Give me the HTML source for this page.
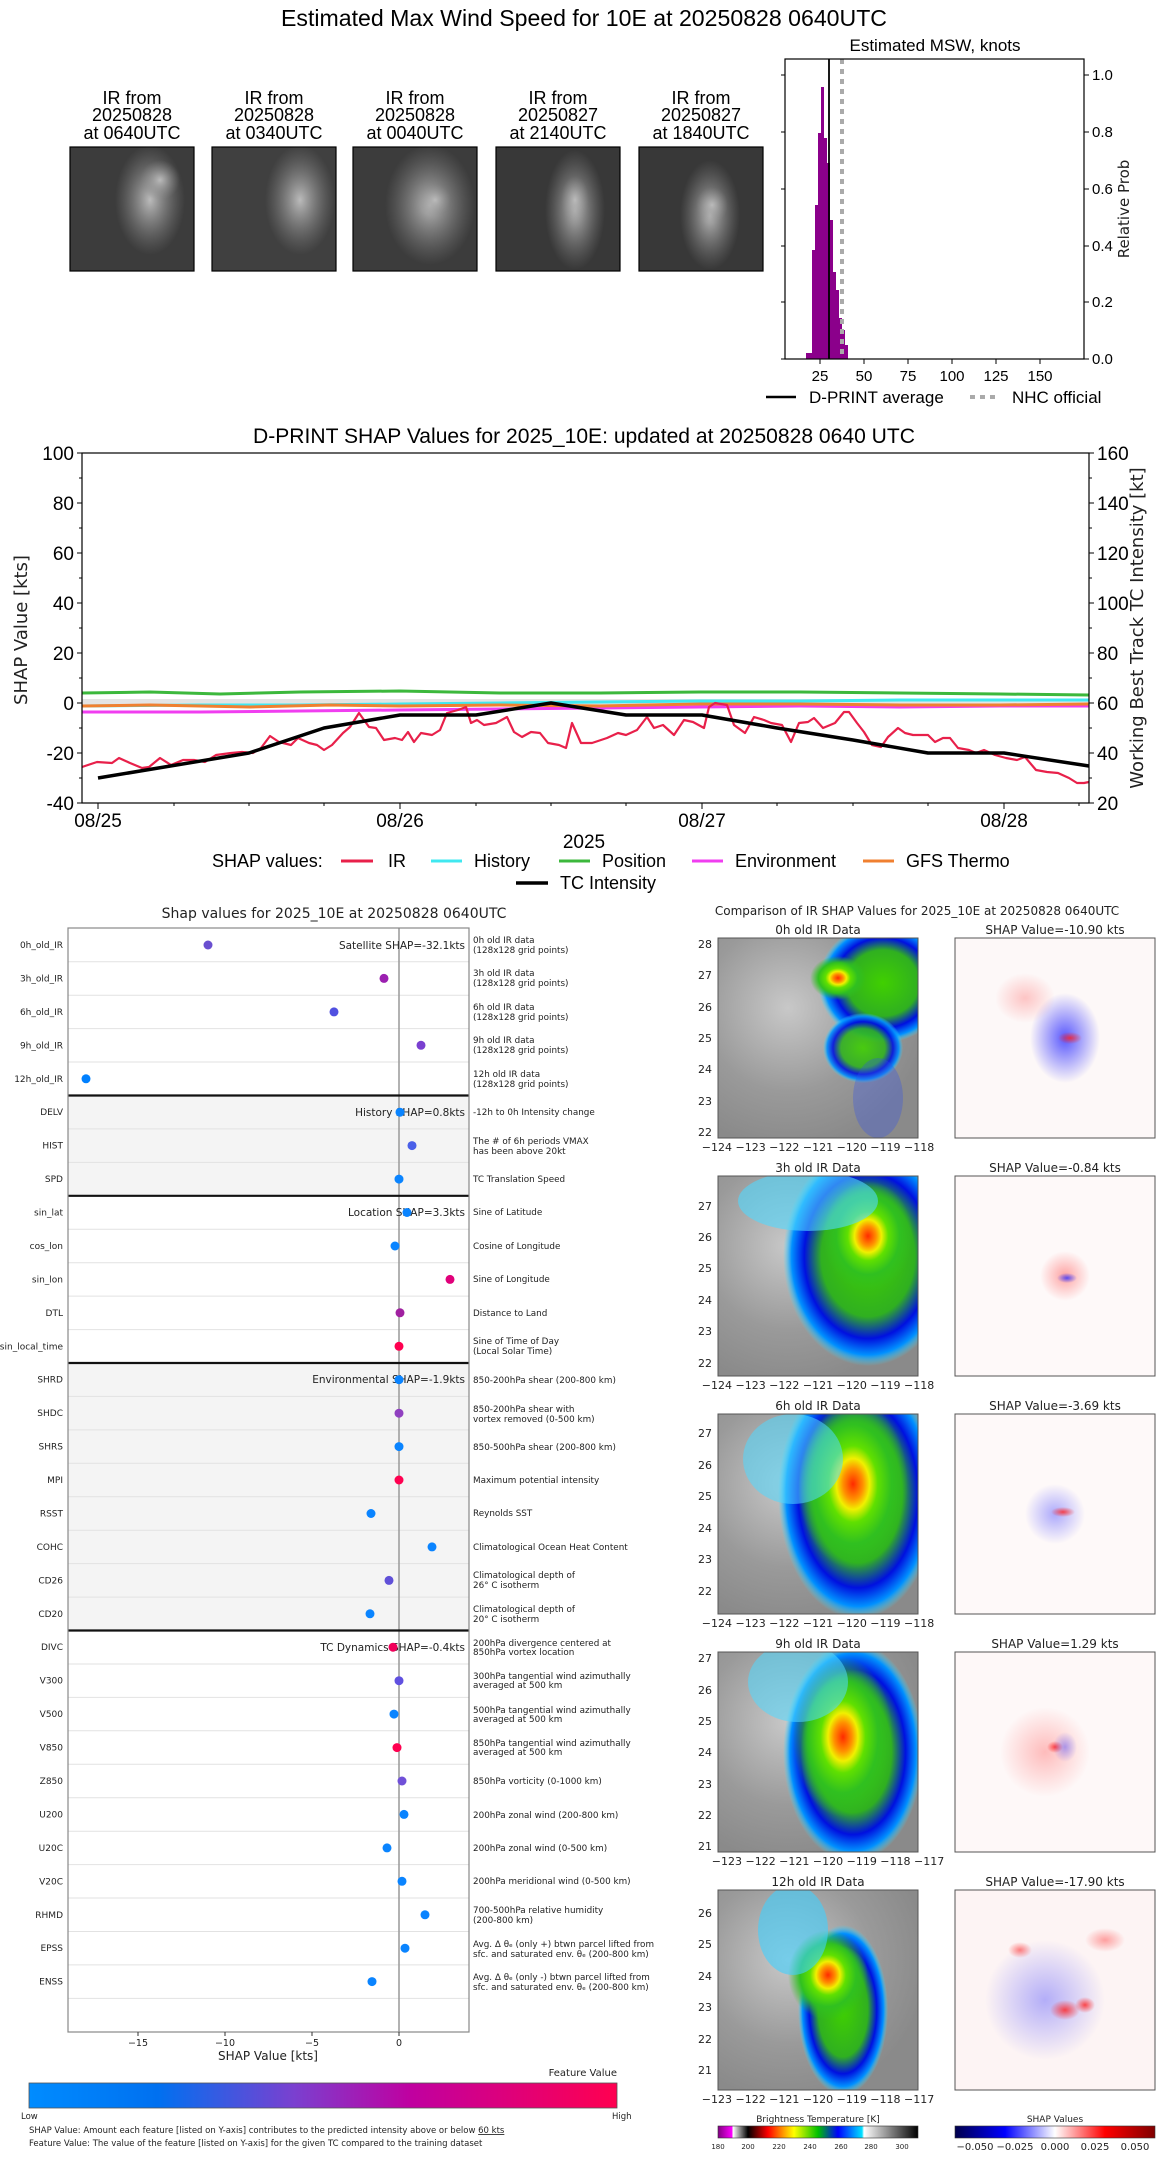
<!DOCTYPE html>
<html><head><meta charset="utf-8"><style>
html,body{margin:0;padding:0;background:#fff}
svg{display:block}
text{font-family:"DejaVu Sans","Liberation Sans",sans-serif;fill:#222}
.n{font-family:"Liberation Sans",sans-serif;fill:#000}
</style></head><body>
<svg width="1168" height="2158" viewBox="0 0 1168 2158" xmlns="http://www.w3.org/2000/svg">
<defs>
<radialGradient id="ir" cx="0.5" cy="0.5" r="0.5"><stop offset="0" stop-color="#ff2a00"/><stop offset="0.18" stop-color="#ff9000"/><stop offset="0.3" stop-color="#f0f000"/><stop offset="0.45" stop-color="#60e000"/><stop offset="0.7" stop-color="#30c020"/><stop offset="1" stop-color="#30c020" stop-opacity="0"/></radialGradient>
<radialGradient id="irg" cx="0.5" cy="0.5" r="0.5"><stop offset="0" stop-color="#40d000"/><stop offset="0.55" stop-color="#30b020"/><stop offset="0.75" stop-color="#0010e0"/><stop offset="0.9" stop-color="#0090ff"/><stop offset="1" stop-color="#40e0ff" stop-opacity="0"/></radialGradient>
<radialGradient id="gray" cx="0.35" cy="0.35" r="0.7"><stop offset="0" stop-color="#c8c8c8"/><stop offset="0.6" stop-color="#9a9a9a"/><stop offset="1" stop-color="#8a8a8a"/></radialGradient>
<radialGradient id="sb" cx="0.5" cy="0.5" r="0.5"><stop offset="0" stop-color="#3030ff" stop-opacity="0.8"/><stop offset="1" stop-color="#3030ff" stop-opacity="0"/></radialGradient>
<radialGradient id="sr" cx="0.5" cy="0.5" r="0.5"><stop offset="0" stop-color="#ff2020" stop-opacity="0.8"/><stop offset="1" stop-color="#ff2020" stop-opacity="0"/></radialGradient>
<radialGradient id="tc" cx="0.5" cy="0.5" r="0.5"><stop offset="0" stop-color="#bbb"/><stop offset="1" stop-color="#888" stop-opacity="0"/></radialGradient>
<linearGradient id="fv" x1="0" x2="1"><stop offset="0" stop-color="#008cff"/><stop offset="0.22" stop-color="#0070f0"/><stop offset="0.45" stop-color="#7a40d0"/><stop offset="0.65" stop-color="#c000a0"/><stop offset="1" stop-color="#ff0050"/></linearGradient>
<linearGradient id="bt" x1="0" x2="1"><stop offset="0" stop-color="#800080"/><stop offset="0.07" stop-color="#ff00ff"/><stop offset="0.075" stop-color="#ffffff"/><stop offset="0.15" stop-color="#000"/><stop offset="0.25" stop-color="#ff0000"/><stop offset="0.33" stop-color="#ffa000"/><stop offset="0.38" stop-color="#ffff00"/><stop offset="0.5" stop-color="#00c000"/><stop offset="0.6" stop-color="#0000ff"/><stop offset="0.72" stop-color="#00e0ff"/><stop offset="0.73" stop-color="#ffffff"/><stop offset="1" stop-color="#000"/></linearGradient>
<linearGradient id="sv" x1="0" x2="1"><stop offset="0" stop-color="#00004c"/><stop offset="0.25" stop-color="#0000ff"/><stop offset="0.5" stop-color="#ffffff"/><stop offset="0.75" stop-color="#ff0000"/><stop offset="1" stop-color="#800000"/></linearGradient>
</defs>

<!-- TOP -->
<text class="n" x="584" y="26" font-size="23" text-anchor="middle" textLength="606" lengthAdjust="spacingAndGlyphs">Estimated Max Wind Speed for 10E at 20250828 0640UTC</text>
<g class="n" font-size="18" text-anchor="middle">
<text class="n" x="132" y="104">IR from</text><text class="n" x="132" y="121">20250828</text><text class="n" x="132" y="139">at 0640UTC</text>
<text class="n" x="274" y="104">IR from</text><text class="n" x="274" y="121">20250828</text><text class="n" x="274" y="139">at 0340UTC</text>
<text class="n" x="415" y="104">IR from</text><text class="n" x="415" y="121">20250828</text><text class="n" x="415" y="139">at 0040UTC</text>
<text class="n" x="558" y="104">IR from</text><text class="n" x="558" y="121">20250827</text><text class="n" x="558" y="139">at 2140UTC</text>
<text class="n" x="701" y="104">IR from</text><text class="n" x="701" y="121">20250827</text><text class="n" x="701" y="139">at 1840UTC</text>
</g>
<g stroke="#000" stroke-width="1.2">
<rect x="70" y="147" width="124" height="124" fill="#3c3c3c"/>
<rect x="212" y="147" width="124" height="124" fill="#404040"/>
<rect x="353" y="147" width="124" height="124" fill="#3c3c3c"/>
<rect x="496" y="147" width="124" height="124" fill="#383838"/>
<rect x="639" y="147" width="124" height="124" fill="#383838"/>
</g>
<ellipse cx="150" cy="200" rx="35" ry="55" fill="url(#tc)"/><ellipse cx="160" cy="180" rx="20" ry="20" fill="url(#tc)"/>
<ellipse cx="300" cy="200" rx="35" ry="55" fill="url(#tc)"/>
<ellipse cx="430" cy="205" rx="45" ry="60" fill="url(#tc)"/><ellipse cx="435" cy="200" rx="16" ry="16" fill="url(#tc)"/>
<ellipse cx="575" cy="210" rx="30" ry="60" fill="url(#tc)"/><ellipse cx="575" cy="200" rx="14" ry="24" fill="url(#tc)"/>
<ellipse cx="710" cy="215" rx="30" ry="55" fill="url(#tc)"/><ellipse cx="712" cy="205" rx="16" ry="18" fill="url(#tc)"/>

<!-- histogram -->
<text class="n" x="935" y="51" font-size="17" text-anchor="middle">Estimated MSW, knots</text>
<g fill="#8b008b">
<rect x="806" y="353" width="6" height="6"/>
<rect x="812" y="250" width="3" height="109"/>
<rect x="815" y="205" width="3" height="154"/>
<rect x="818" y="133" width="3" height="226"/>
<rect x="821" y="87" width="3" height="272"/>
<rect x="824" y="138" width="3" height="221"/>
<rect x="827" y="163" width="3" height="196"/>
<rect x="830" y="220" width="3" height="139"/>
<rect x="833" y="272" width="3" height="87"/>
<rect x="836" y="290" width="3" height="69"/>
<rect x="839" y="318" width="3" height="41"/>
<rect x="842" y="330" width="3" height="29"/>
<rect x="845" y="345" width="3" height="14"/>
</g>
<line x1="842" y1="59" x2="842" y2="359" stroke="#aaa" stroke-width="4" stroke-dasharray="5,5"/>
<line x1="829" y1="59" x2="829" y2="359" stroke="#000" stroke-width="1.8"/>
<rect x="785" y="59" width="299" height="300" fill="none" stroke="#000" stroke-width="1.2"/>
<g stroke="#000"><line x1="820" y1="359" x2="820" y2="364"/><line x1="864" y1="359" x2="864" y2="364"/><line x1="908" y1="359" x2="908" y2="364"/><line x1="952" y1="359" x2="952" y2="364"/><line x1="996" y1="359" x2="996" y2="364"/><line x1="1040" y1="359" x2="1040" y2="364"/>
<line x1="1084" y1="359" x2="1089" y2="359"/><line x1="1084" y1="302" x2="1089" y2="302"/><line x1="1084" y1="246" x2="1089" y2="246"/><line x1="1084" y1="189" x2="1089" y2="189"/><line x1="1084" y1="132" x2="1089" y2="132"/><line x1="1084" y1="75" x2="1089" y2="75"/>
<line x1="785" y1="359" x2="781" y2="359"/><line x1="785" y1="302" x2="781" y2="302"/><line x1="785" y1="246" x2="781" y2="246"/><line x1="785" y1="189" x2="781" y2="189"/><line x1="785" y1="132" x2="781" y2="132"/><line x1="785" y1="75" x2="781" y2="75"/></g>
<g font-size="15" text-anchor="middle"><text class="n" x="820" y="381">25</text><text class="n" x="864" y="381">50</text><text class="n" x="908" y="381">75</text><text class="n" x="952" y="381">100</text><text class="n" x="996" y="381">125</text><text class="n" x="1040" y="381">150</text></g>
<g font-size="15"><text class="n" x="1092" y="364">0.0</text><text class="n" x="1092" y="307">0.2</text><text class="n" x="1092" y="251">0.4</text><text class="n" x="1092" y="194">0.6</text><text class="n" x="1092" y="137">0.8</text><text class="n" x="1092" y="80">1.0</text></g>
<text x="1129" y="209" font-size="15" text-anchor="middle" transform="rotate(-90 1129 209)">Relative Prob</text>
<line x1="766" y1="397" x2="796" y2="397" stroke="#000" stroke-width="2.5"/>
<text class="n" x="809" y="403" font-size="17">D-PRINT average</text>
<line x1="970" y1="397" x2="1000" y2="397" stroke="#aaa" stroke-width="4" stroke-dasharray="5,5"/>
<text class="n" x="1012" y="403" font-size="17">NHC official</text>

<!-- MIDDLE CHART -->
<text class="n" x="584" y="443" font-size="21" text-anchor="middle" textLength="662" lengthAdjust="spacingAndGlyphs">D-PRINT SHAP Values for 2025_10E: updated at 20250828 0640 UTC</text>
<rect x="82" y="699" width="1007" height="7" fill="#e4e4e4"/>
<g fill="none" stroke-width="3" stroke-linejoin="round">
<polyline stroke="#3cb83c" points="82,693 150,692 220,694 300,692 400,691 500,693 600,693 700,692 800,692 900,693 1000,694 1089,695"/>
<polyline stroke="#40e8f0" points="82,706 200,705 300,705 400,704 500,703 600,702 700,701 800,701 900,700 1000,700 1089,700"/>
<polyline stroke="#f03ef0" points="82,712 200,712 300,711 400,710 500,709 600,708 700,707 800,706 900,707 1000,706 1089,706"/>
<polyline stroke="#f08030" points="82,706 150,705 250,707 330,705 400,706 500,705 600,706 700,704 800,704 900,705 1000,705 1089,704"/>
</g>
<polyline fill="none" stroke="#e8204a" stroke-width="2.2" stroke-linejoin="round" points="82,767 97,762 112,763 119,758 130,763 142,768 149,767 160,758 171,765 183,760 194,760 205,762 216,755 231,753 242,752 253,753 261,748 270,736 279,742 291,745 298,738 309,743 317,745 324,750 332,745 343,733 350,727 359,713 369,727 376,728 384,740 395,738 402,740 408,732 414,742 421,733 432,735 440,730 447,713 458,710 466,707 471,723 477,720 484,725 496,723 507,717 514,732 522,737 531,732 540,733 548,743 559,745 566,748 572,723 581,743 592,743 607,738 618,733 626,735 637,730 647,717 654,728 663,725 674,735 684,720 693,722 704,728 709,707 715,703 727,705 734,725 745,733 754,717 764,720 771,723 782,725 791,742 799,723 808,722 814,718 823,728 835,723 844,712 849,712 857,723 864,732 872,745 881,747 888,737 898,728 905,733 913,735 928,735 935,742 943,738 950,738 958,748 969,750 976,753 984,750 995,755 1006,758 1017,760 1025,757 1036,770 1047,772 1058,773 1069,778 1077,783 1084,783 1089,782"/>
<polyline fill="none" stroke="#000" stroke-width="3.5" stroke-linejoin="round" points="98,778 249,753 324,728 400,715 476,715 551,703 626,715 702,715 777,728 853,740 928,753 1004,753 1089,766"/>
<rect x="82" y="453" width="1007" height="350" fill="none" stroke="#000" stroke-width="1.2"/>
<g stroke="#000">
<line x1="82" y1="453" x2="77" y2="453"/><line x1="82" y1="503" x2="77" y2="503"/><line x1="82" y1="553" x2="77" y2="553"/><line x1="82" y1="603" x2="77" y2="603"/><line x1="82" y1="653" x2="77" y2="653"/><line x1="82" y1="703" x2="77" y2="703"/><line x1="82" y1="753" x2="77" y2="753"/><line x1="82" y1="803" x2="77" y2="803"/>
<line x1="82" y1="478" x2="79" y2="478"/><line x1="82" y1="528" x2="79" y2="528"/><line x1="82" y1="578" x2="79" y2="578"/><line x1="82" y1="628" x2="79" y2="628"/><line x1="82" y1="678" x2="79" y2="678"/><line x1="82" y1="728" x2="79" y2="728"/><line x1="82" y1="778" x2="79" y2="778"/>
<line x1="1089" y1="453" x2="1094" y2="453"/><line x1="1089" y1="503" x2="1094" y2="503"/><line x1="1089" y1="553" x2="1094" y2="553"/><line x1="1089" y1="603" x2="1094" y2="603"/><line x1="1089" y1="653" x2="1094" y2="653"/><line x1="1089" y1="703" x2="1094" y2="703"/><line x1="1089" y1="753" x2="1094" y2="753"/><line x1="1089" y1="803" x2="1094" y2="803"/>
<line x1="1089" y1="478" x2="1092" y2="478"/><line x1="1089" y1="528" x2="1092" y2="528"/><line x1="1089" y1="578" x2="1092" y2="578"/><line x1="1089" y1="628" x2="1092" y2="628"/><line x1="1089" y1="678" x2="1092" y2="678"/><line x1="1089" y1="728" x2="1092" y2="728"/><line x1="1089" y1="778" x2="1092" y2="778"/>
<line x1="98" y1="803" x2="98" y2="809"/><line x1="400" y1="803" x2="400" y2="809"/><line x1="702" y1="803" x2="702" y2="809"/><line x1="1004" y1="803" x2="1004" y2="809"/>
<line x1="174" y1="803" x2="174" y2="806"/><line x1="249" y1="803" x2="249" y2="806"/><line x1="324" y1="803" x2="324" y2="806"/><line x1="476" y1="803" x2="476" y2="806"/><line x1="551" y1="803" x2="551" y2="806"/><line x1="626" y1="803" x2="626" y2="806"/><line x1="777" y1="803" x2="777" y2="806"/><line x1="853" y1="803" x2="853" y2="806"/><line x1="928" y1="803" x2="928" y2="806"/><line x1="1079" y1="803" x2="1079" y2="806"/>
</g>
<g font-size="19" text-anchor="end"><text class="n" x="74" y="460">100</text><text class="n" x="74" y="510">80</text><text class="n" x="74" y="560">60</text><text class="n" x="74" y="610">40</text><text class="n" x="74" y="660">20</text><text class="n" x="74" y="710">0</text><text class="n" x="74" y="760">-20</text><text class="n" x="74" y="810">-40</text></g>
<g font-size="19"><text class="n" x="1097" y="460">160</text><text class="n" x="1097" y="510">140</text><text class="n" x="1097" y="560">120</text><text class="n" x="1097" y="610">100</text><text class="n" x="1097" y="660">80</text><text class="n" x="1097" y="710">60</text><text class="n" x="1097" y="760">40</text><text class="n" x="1097" y="810">20</text></g>
<g font-size="19" text-anchor="middle"><text class="n" x="98" y="827">08/25</text><text class="n" x="400" y="827">08/26</text><text class="n" x="702" y="827">08/27</text><text class="n" x="1004" y="827">08/28</text><text class="n" x="584" y="848">2025</text></g>
<text x="27" y="630" font-size="18" text-anchor="middle" transform="rotate(-90 27 630)">SHAP Value [kts]</text>
<text x="1143" y="628" font-size="18" text-anchor="middle" transform="rotate(-90 1143 628)">Working Best Track TC Intensity [kt]</text>
<g font-size="18"><text class="n" x="212" y="867">SHAP values:</text>
<line x1="341" y1="861" x2="373" y2="861" stroke="#e8204a" stroke-width="3"/><text class="n" x="388" y="867">IR</text>
<line x1="431" y1="861" x2="462" y2="861" stroke="#40e8f0" stroke-width="3"/><text class="n" x="474" y="867">History</text>
<line x1="559" y1="861" x2="590" y2="861" stroke="#3cb83c" stroke-width="3"/><text class="n" x="602" y="867">Position</text>
<line x1="692" y1="861" x2="723" y2="861" stroke="#f03ef0" stroke-width="3"/><text class="n" x="735" y="867">Environment</text>
<line x1="863" y1="861" x2="894" y2="861" stroke="#f08030" stroke-width="3"/><text class="n" x="906" y="867">GFS Thermo</text>
<line x1="516" y1="883" x2="548" y2="883" stroke="#000" stroke-width="3.5"/><text class="n" x="560" y="889">TC Intensity</text></g>

<!-- LEFT SHAP PANEL -->
<text x="334" y="918" font-size="14" text-anchor="middle">Shap values for 2025_10E at 20250828 0640UTC</text>
<rect x="68" y="1095.5" width="401" height="100.3" fill="#f4f4f4"/>
<rect x="68" y="1363" width="401" height="267.5" fill="#f4f4f4"/>
<g stroke="#e2e2e2" stroke-width="1">
<line x1="68" x2="469" y1="961.7" y2="961.7"/><line x1="68" x2="469" y1="995.2" y2="995.2"/><line x1="68" x2="469" y1="1028.6" y2="1028.6"/><line x1="68" x2="469" y1="1062" y2="1062"/>
<line x1="68" x2="469" y1="1128.9" y2="1128.9"/><line x1="68" x2="469" y1="1162.4" y2="1162.4"/>
<line x1="68" x2="469" y1="1229.2" y2="1229.2"/><line x1="68" x2="469" y1="1262.7" y2="1262.7"/><line x1="68" x2="469" y1="1296.1" y2="1296.1"/><line x1="68" x2="469" y1="1329.6" y2="1329.6"/>
<line x1="68" x2="469" y1="1396.4" y2="1396.4"/><line x1="68" x2="469" y1="1429.9" y2="1429.9"/><line x1="68" x2="469" y1="1463.3" y2="1463.3"/><line x1="68" x2="469" y1="1496.8" y2="1496.8"/><line x1="68" x2="469" y1="1530.2" y2="1530.2"/><line x1="68" x2="469" y1="1563.6" y2="1563.6"/><line x1="68" x2="469" y1="1597.1" y2="1597.1"/>
<line x1="68" x2="469" y1="1664" y2="1664"/><line x1="68" x2="469" y1="1697.4" y2="1697.4"/><line x1="68" x2="469" y1="1730.8" y2="1730.8"/><line x1="68" x2="469" y1="1764.3" y2="1764.3"/><line x1="68" x2="469" y1="1797.7" y2="1797.7"/><line x1="68" x2="469" y1="1831.2" y2="1831.2"/><line x1="68" x2="469" y1="1864.6" y2="1864.6"/><line x1="68" x2="469" y1="1898" y2="1898"/><line x1="68" x2="469" y1="1931.5" y2="1931.5"/><line x1="68" x2="469" y1="1964.9" y2="1964.9"/><line x1="68" x2="469" y1="1998.4" y2="1998.4"/>
</g>
<line x1="399" y1="928" x2="399" y2="2032" stroke="#999" stroke-width="1.5"/>
<g stroke="#111" stroke-width="2.2"><line x1="68" x2="469" y1="1095.5" y2="1095.5"/><line x1="68" x2="469" y1="1195.8" y2="1195.8"/><line x1="68" x2="469" y1="1363" y2="1363"/><line x1="68" x2="469" y1="1630.5" y2="1630.5"/></g>
<rect x="68" y="928" width="401" height="1104" fill="none" stroke="#888" stroke-width="1.2"/>
<g font-size="10.5" text-anchor="end">
<text x="465" y="949">Satellite SHAP=-32.1kts</text>
<text x="465" y="1116">History SHAP=0.8kts</text>
<text x="465" y="1216">Location SHAP=3.3kts</text>
<text x="465" y="1383">Environmental SHAP=-1.9kts</text>
<text x="465" y="1651">TC Dynamics SHAP=-0.4kts</text>
</g>
<g>
<circle cx="208" cy="945" r="4.5" fill="#6a4fd0"/><circle cx="384" cy="978.4" r="4.5" fill="#9b20b0"/><circle cx="334" cy="1011.9" r="4.5" fill="#5050e0"/><circle cx="421" cy="1045.3" r="4.5" fill="#7a40d0"/><circle cx="86" cy="1078.8" r="4.5" fill="#0080ff"/>
<circle cx="400" cy="1112.2" r="4.5" fill="#0a84ff"/><circle cx="412" cy="1145.6" r="4.5" fill="#4a60e8"/><circle cx="399" cy="1179.1" r="4.5" fill="#0a84ff"/>
<circle cx="407" cy="1212.5" r="4.5" fill="#0a84ff"/><circle cx="395" cy="1246" r="4.5" fill="#0a84ff"/><circle cx="450" cy="1279.4" r="4.5" fill="#e0007a"/><circle cx="400" cy="1312.8" r="4.5" fill="#a020a0"/><circle cx="399" cy="1346.3" r="4.5" fill="#ff0050"/>
<circle cx="399" cy="1379.7" r="4.5" fill="#0a84ff"/><circle cx="399" cy="1413.2" r="4.5" fill="#9040c0"/><circle cx="399" cy="1446.6" r="4.5" fill="#0a84ff"/><circle cx="399" cy="1480" r="4.5" fill="#ff0050"/><circle cx="371" cy="1513.5" r="4.5" fill="#0a84ff"/><circle cx="432" cy="1546.9" r="4.5" fill="#0a84ff"/><circle cx="389" cy="1580.4" r="4.5" fill="#6050d8"/><circle cx="370" cy="1613.8" r="4.5" fill="#0a84ff"/>
<circle cx="393" cy="1647.2" r="4.5" fill="#f0005a"/><circle cx="399" cy="1680.7" r="4.5" fill="#6050e0"/><circle cx="394" cy="1714.1" r="4.5" fill="#0a84ff"/><circle cx="397" cy="1747.6" r="4.5" fill="#ff0050"/><circle cx="402" cy="1781" r="4.5" fill="#7050d8"/><circle cx="404" cy="1814.4" r="4.5" fill="#0a84ff"/><circle cx="387" cy="1847.9" r="4.5" fill="#0a84ff"/><circle cx="402" cy="1881.3" r="4.5" fill="#0a84ff"/><circle cx="425" cy="1914.8" r="4.5" fill="#0a84ff"/><circle cx="405" cy="1948.2" r="4.5" fill="#0a84ff"/><circle cx="372" cy="1981.6" r="4.5" fill="#0a84ff"/>
</g>
<g font-size="9" text-anchor="end">
<text x="63" y="948">0h_old_IR</text><text x="63" y="981.4">3h_old_IR</text><text x="63" y="1014.9">6h_old_IR</text><text x="63" y="1048.3">9h_old_IR</text><text x="63" y="1081.8">12h_old_IR</text>
<text x="63" y="1115.2">DELV</text><text x="63" y="1148.6">HIST</text><text x="63" y="1182.1">SPD</text>
<text x="63" y="1215.5">sin_lat</text><text x="63" y="1249">cos_lon</text><text x="63" y="1282.4">sin_lon</text><text x="63" y="1315.8">DTL</text><text x="63" y="1349.3">sin_local_time</text>
<text x="63" y="1382.7">SHRD</text><text x="63" y="1416.2">SHDC</text><text x="63" y="1449.6">SHRS</text><text x="63" y="1483">MPI</text><text x="63" y="1516.5">RSST</text><text x="63" y="1549.9">COHC</text><text x="63" y="1583.4">CD26</text><text x="63" y="1616.8">CD20</text>
<text x="63" y="1650.2">DIVC</text><text x="63" y="1683.7">V300</text><text x="63" y="1717.1">V500</text><text x="63" y="1750.6">V850</text><text x="63" y="1784">Z850</text><text x="63" y="1817.4">U200</text><text x="63" y="1850.9">U20C</text><text x="63" y="1884.3">V20C</text><text x="63" y="1917.8">RHMD</text><text x="63" y="1951.2">EPSS</text><text x="63" y="1984.6">ENSS</text>
</g>
<g font-size="8.8">
<text x="473" y="943">0h old IR data</text><text x="473" y="953">(128x128 grid points)</text>
<text x="473" y="976">3h old IR data</text><text x="473" y="986">(128x128 grid points)</text>
<text x="473" y="1010">6h old IR data</text><text x="473" y="1020">(128x128 grid points)</text>
<text x="473" y="1043">9h old IR data</text><text x="473" y="1053">(128x128 grid points)</text>
<text x="473" y="1077">12h old IR data</text><text x="473" y="1087">(128x128 grid points)</text>
<text x="473" y="1115">-12h to 0h Intensity change</text>
<text x="473" y="1144">The # of 6h periods VMAX</text><text x="473" y="1154">has been above 20kt</text>
<text x="473" y="1182">TC Translation Speed</text>
<text x="473" y="1215">Sine of Latitude</text>
<text x="473" y="1249">Cosine of Longitude</text>
<text x="473" y="1282">Sine of Longitude</text>
<text x="473" y="1316">Distance to Land</text>
<text x="473" y="1344">Sine of Time of Day</text><text x="473" y="1354">(Local Solar Time)</text>
<text x="473" y="1383">850-200hPa shear (200-800 km)</text>
<text x="473" y="1412">850-200hPa shear with</text><text x="473" y="1422">vortex removed (0-500 km)</text>
<text x="473" y="1450">850-500hPa shear (200-800 km)</text>
<text x="473" y="1483">Maximum potential intensity</text>
<text x="473" y="1516">Reynolds SST</text>
<text x="473" y="1550">Climatological Ocean Heat Content</text>
<text x="473" y="1578">Climatological depth of</text><text x="473" y="1588">26° C isotherm</text>
<text x="473" y="1612">Climatological depth of</text><text x="473" y="1622">20° C isotherm</text>
<text x="473" y="1646">200hPa divergence centered at</text><text x="473" y="1655">850hPa vortex location</text>
<text x="473" y="1679">300hPa tangential wind azimuthally</text><text x="473" y="1688">averaged at 500 km</text>
<text x="473" y="1713">500hPa tangential wind azimuthally</text><text x="473" y="1722">averaged at 500 km</text>
<text x="473" y="1746">850hPa tangential wind azimuthally</text><text x="473" y="1755">averaged at 500 km</text>
<text x="473" y="1784">850hPa vorticity (0-1000 km)</text>
<text x="473" y="1818">200hPa zonal wind (200-800 km)</text>
<text x="473" y="1851">200hPa zonal wind (0-500 km)</text>
<text x="473" y="1884">200hPa meridional wind (0-500 km)</text>
<text x="473" y="1913">700-500hPa relative humidity</text><text x="473" y="1923">(200-800 km)</text>
<text x="473" y="1947">Avg. Δ θₑ (only +) btwn parcel lifted from</text><text x="473" y="1957">sfc. and saturated env. θₑ (200-800 km)</text>
<text x="473" y="1980">Avg. Δ θₑ (only -) btwn parcel lifted from</text><text x="473" y="1990">sfc. and saturated env. θₑ (200-800 km)</text>
</g>
<g stroke="#333"><line x1="138" y1="2032" x2="138" y2="2036"/><line x1="225" y1="2032" x2="225" y2="2036"/><line x1="312" y1="2032" x2="312" y2="2036"/><line x1="399" y1="2032" x2="399" y2="2036"/></g>
<g font-size="9.5" text-anchor="middle"><text x="138" y="2046">−15</text><text x="225" y="2046">−10</text><text x="312" y="2046">−5</text><text x="399" y="2046">0</text></g>
<text x="268" y="2060" font-size="12" text-anchor="middle">SHAP Value [kts]</text>
<text x="617" y="2076" font-size="10" text-anchor="end">Feature Value</text>
<rect x="29" y="2083" width="588" height="25" fill="url(#fv)" stroke="#555" stroke-width="0.8"/>
<text x="21" y="2119" font-size="8.5">Low</text><text x="612" y="2119" font-size="8.5">High</text>
<text x="29" y="2133" font-size="8.5">SHAP Value: Amount each feature [listed on Y-axis] contributes to the predicted intensity above or below <tspan text-decoration="underline">60 kts</tspan></text>
<text x="29" y="2146" font-size="8.5">Feature Value: The value of the feature [listed on Y-axis] for the given TC compared to the training dataset</text>

<!-- RIGHT IR PANELS -->
<text x="917" y="915" font-size="12" text-anchor="middle">Comparison of IR SHAP Values for 2025_10E at 20250828 0640UTC</text>

<!-- row 0h -->
<text x="818" y="934" font-size="12" text-anchor="middle">0h old IR Data</text>
<text x="1055" y="934" font-size="12" text-anchor="middle">SHAP Value=-10.90 kts</text>
<svg x="718" y="938" width="200" height="200"><rect width="200" height="200" fill="url(#gray)"/><ellipse cx="165" cy="45" rx="65" ry="60" fill="url(#irg)"/><ellipse cx="120" cy="40" rx="28" ry="22" fill="url(#ir)"/><ellipse cx="145" cy="110" rx="40" ry="35" fill="url(#irg)" opacity="0.9"/><ellipse cx="160" cy="160" rx="25" ry="40" fill="#3050f0" opacity="0.3"/></svg>
<rect x="718" y="938" width="200" height="200" fill="none" stroke="#555"/>
<svg x="955" y="938" width="200" height="200"><rect width="200" height="200" fill="#fdf8f8"/><ellipse cx="110" cy="100" rx="35" ry="45" fill="url(#sb)"/><ellipse cx="115" cy="100" rx="12" ry="6" fill="url(#sr)"/><ellipse cx="70" cy="60" rx="30" ry="25" fill="url(#sr)" opacity="0.3"/></svg>
<rect x="955" y="938" width="200" height="200" fill="none" stroke="#555"/>
<!-- row 3h -->
<text x="818" y="1172" font-size="12" text-anchor="middle">3h old IR Data</text>
<text x="1055" y="1172" font-size="12" text-anchor="middle">SHAP Value=-0.84 kts</text>
<svg x="718" y="1176" width="200" height="200"><rect width="200" height="200" fill="url(#gray)"/><ellipse cx="150" cy="80" rx="85" ry="110" fill="url(#irg)"/><ellipse cx="150" cy="60" rx="45" ry="55" fill="url(#ir)"/><ellipse cx="90" cy="25" rx="70" ry="30" fill="#50d8ff" opacity="0.6"/></svg>
<rect x="718" y="1176" width="200" height="200" fill="none" stroke="#555"/>
<svg x="955" y="1176" width="200" height="200"><rect width="200" height="200" fill="#fef9f9"/><ellipse cx="110" cy="100" rx="25" ry="25" fill="url(#sr)" opacity="0.5"/><ellipse cx="112" cy="102" rx="10" ry="5" fill="url(#sb)"/></svg>
<rect x="955" y="1176" width="200" height="200" fill="none" stroke="#555"/>
<!-- row 6h -->
<text x="818" y="1410" font-size="12" text-anchor="middle">6h old IR Data</text>
<text x="1055" y="1410" font-size="12" text-anchor="middle">SHAP Value=-3.69 kts</text>
<svg x="718" y="1414" width="200" height="200"><rect width="200" height="200" fill="url(#gray)"/><ellipse cx="140" cy="80" rx="80" ry="125" fill="url(#irg)"/><ellipse cx="135" cy="70" rx="55" ry="85" fill="url(#ir)"/><ellipse cx="75" cy="45" rx="50" ry="45" fill="#50d8ff" opacity="0.55"/></svg>
<rect x="718" y="1414" width="200" height="200" fill="none" stroke="#555"/>
<svg x="955" y="1414" width="200" height="200"><rect width="200" height="200" fill="#fef9f9"/><ellipse cx="100" cy="100" rx="30" ry="30" fill="url(#sb)" opacity="0.5"/><ellipse cx="108" cy="98" rx="12" ry="5" fill="url(#sr)"/></svg>
<rect x="955" y="1414" width="200" height="200" fill="none" stroke="#555"/>
<!-- row 9h -->
<text x="818" y="1648" font-size="12" text-anchor="middle">9h old IR Data</text>
<text x="1055" y="1648" font-size="12" text-anchor="middle">SHAP Value=1.29 kts</text>
<svg x="718" y="1652" width="200" height="200"><rect width="200" height="200" fill="url(#gray)"/><ellipse cx="135" cy="100" rx="70" ry="110" fill="url(#irg)"/><ellipse cx="125" cy="85" rx="50" ry="80" fill="url(#ir)"/><ellipse cx="80" cy="30" rx="50" ry="40" fill="#50d8ff" opacity="0.55"/></svg>
<rect x="718" y="1652" width="200" height="200" fill="none" stroke="#555"/>
<svg x="955" y="1652" width="200" height="200"><rect width="200" height="200" fill="#fef8f8"/><ellipse cx="90" cy="100" rx="45" ry="45" fill="url(#sr)" opacity="0.35"/><ellipse cx="100" cy="95" rx="8" ry="6" fill="url(#sr)"/><ellipse cx="110" cy="95" rx="12" ry="15" fill="url(#sb)" opacity="0.5"/></svg>
<rect x="955" y="1652" width="200" height="200" fill="none" stroke="#555"/>
<!-- row 12h -->
<text x="818" y="1886" font-size="12" text-anchor="middle">12h old IR Data</text>
<text x="1055" y="1886" font-size="12" text-anchor="middle">SHAP Value=-17.90 kts</text>
<svg x="718" y="1890" width="200" height="200"><rect width="200" height="200" fill="url(#gray)"/><ellipse cx="125" cy="120" rx="45" ry="85" fill="url(#irg)"/><ellipse cx="110" cy="85" rx="40" ry="45" fill="url(#ir)"/><ellipse cx="75" cy="40" rx="35" ry="45" fill="#40d0ff" opacity="0.6"/></svg>
<rect x="718" y="1890" width="200" height="200" fill="none" stroke="#555"/>
<svg x="955" y="1890" width="200" height="200"><rect width="200" height="200" fill="#fdf4f4"/><ellipse cx="90" cy="110" rx="60" ry="60" fill="url(#sb)" opacity="0.45"/><ellipse cx="110" cy="120" rx="15" ry="10" fill="url(#sr)"/><ellipse cx="130" cy="115" rx="10" ry="8" fill="url(#sr)"/><ellipse cx="65" cy="60" rx="12" ry="8" fill="url(#sr)" opacity="0.7"/><ellipse cx="150" cy="50" rx="20" ry="12" fill="url(#sr)" opacity="0.5"/></svg>
<rect x="955" y="1890" width="200" height="200" fill="none" stroke="#555"/>

<g font-size="11" text-anchor="end">
<text x="712" y="948">28</text><text x="712" y="979">27</text><text x="712" y="1011">26</text><text x="712" y="1042">25</text><text x="712" y="1073">24</text><text x="712" y="1105">23</text><text x="712" y="1136">22</text>
<text x="712" y="1210">27</text><text x="712" y="1241">26</text><text x="712" y="1272">25</text><text x="712" y="1304">24</text><text x="712" y="1335">23</text><text x="712" y="1367">22</text>
<text x="712" y="1437">27</text><text x="712" y="1469">26</text><text x="712" y="1500">25</text><text x="712" y="1532">24</text><text x="712" y="1563">23</text><text x="712" y="1595">22</text>
<text x="712" y="1662">27</text><text x="712" y="1694">26</text><text x="712" y="1725">25</text><text x="712" y="1756">24</text><text x="712" y="1788">23</text><text x="712" y="1819">22</text><text x="712" y="1850">21</text>
<text x="712" y="1917">26</text><text x="712" y="1948">25</text><text x="712" y="1980">24</text><text x="712" y="2011">23</text><text x="712" y="2043">22</text><text x="712" y="2074">21</text>
</g>
<g font-size="11" text-anchor="middle">
<text x="818" y="1151">−124 −123 −122 −121 −120 −119 −118</text>
<text x="818" y="1389">−124 −123 −122 −121 −120 −119 −118</text>
<text x="818" y="1627">−124 −123 −122 −121 −120 −119 −118</text>
<text x="828" y="1865">−123 −122 −121 −120 −119 −118 −117</text>
<text x="818" y="2103">−123 −122 −121 −120 −119 −118 −117</text>
</g>

<text x="818" y="2122" font-size="9" text-anchor="middle">Brightness Temperature [K]</text>
<rect x="718" y="2126" width="200" height="12" fill="url(#bt)" stroke="#333" stroke-width="0.6"/>
<g font-size="7" text-anchor="middle"><text x="718" y="2149">180</text><text x="748" y="2149">200</text><text x="779" y="2149">220</text><text x="810" y="2149">240</text><text x="841" y="2149">260</text><text x="871" y="2149">280</text><text x="902" y="2149">300</text></g>
<text x="1055" y="2122" font-size="9" text-anchor="middle">SHAP Values</text>
<rect x="955" y="2126" width="200" height="12" fill="url(#sv)" stroke="#333" stroke-width="0.6"/>
<g font-size="10" text-anchor="middle"><text x="975" y="2150">−0.050</text><text x="1015" y="2150">−0.025</text><text x="1055" y="2150">0.000</text><text x="1095" y="2150">0.025</text><text x="1135" y="2150">0.050</text></g>
</svg>
</body></html>
